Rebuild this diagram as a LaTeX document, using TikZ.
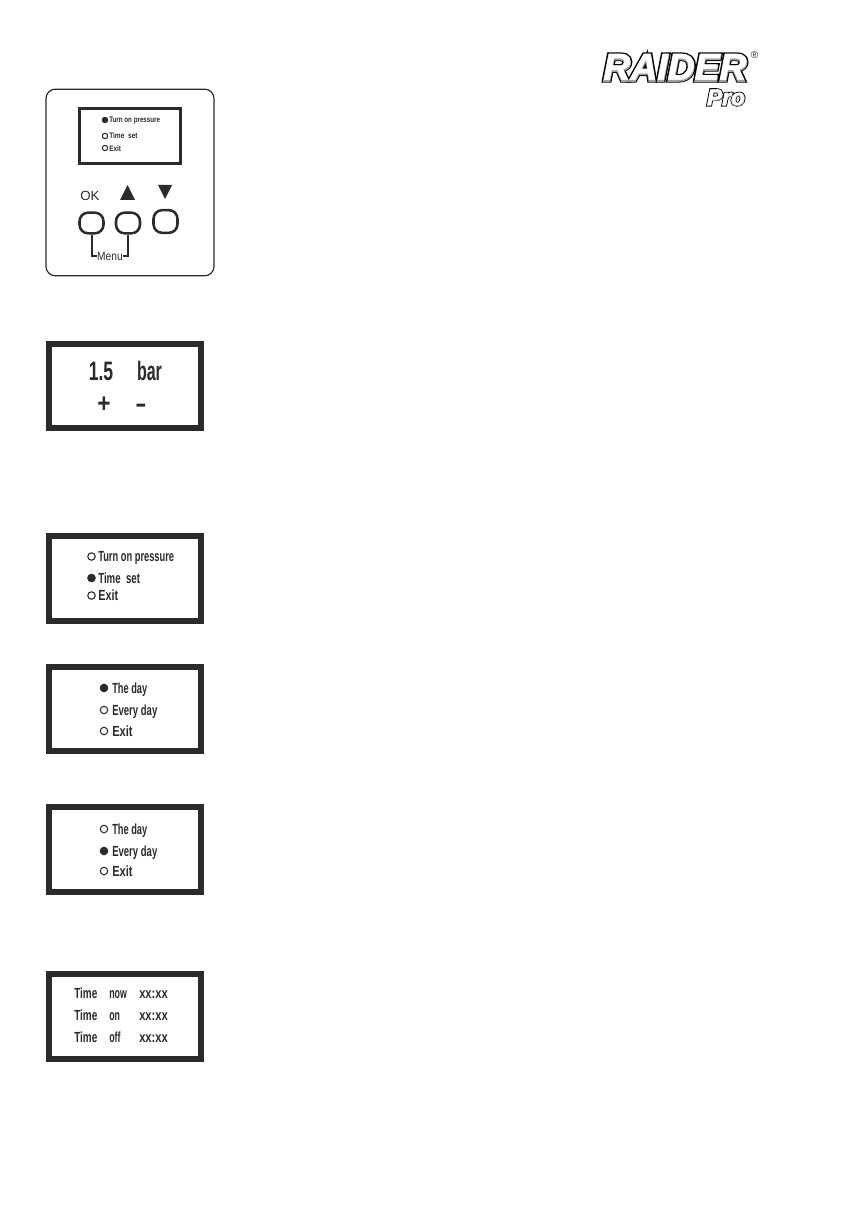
\documentclass[tikz,border=0pt]{standalone}
\usepackage{fontspec}
\setmainfont{Liberation Sans}
\newfontfamily\logofat[FakeBold=12]{Liberation Sans}
\newfontfamily\logomid[FakeBold=5]{Liberation Sans}
\newfontfamily\logothin[FakeBold=1.5]{Liberation Sans}
\newcommand{\cond}[2][0.72]{\scalebox{#1}[1]{#2}}
\definecolor{ink}{HTML}{2B2B2B}
\tikzset{
  x=0.75pt,y=-0.75pt,
  lcd/.style={draw=ink,line width=4.5pt,fill=white,minimum width=114pt,minimum height=63.5pt,inner sep=0pt},
  lcdsmall/.style={draw=ink,line width=2.2pt,fill=white,minimum width=76pt,minimum height=41.5pt,inner sep=0pt},
  btn/.style={draw=ink,line width=1.9pt,rounded corners=6.5pt,minimum width=18pt,minimum height=15.5pt,inner sep=0pt},
  tri/.style={fill=ink,draw=none},
  txtbig/.style={text=ink,font=\fontsize{20}{20}\selectfont\bfseries,inner sep=0pt},
  txtmid/.style={text=ink,font=\fontsize{11}{11}\selectfont\bfseries,inner sep=0pt,anchor=west,text height=8.5pt,text depth=1pt},
  txttiny/.style={text=ink,font=\fontsize{6}{6}\selectfont\bfseries,inner sep=0pt,anchor=west},
  radio/.style={circle,draw=ink,line width=0.8pt,minimum size=5.6pt,inner sep=0pt},
  radioon/.style={radio,fill=ink},
  radiosm/.style={circle,draw=ink,line width=0.8pt,minimum size=4pt,inner sep=0pt},
  radiosmon/.style={radiosm,fill=ink},
  wire/.style={draw=ink,line width=1.5pt},
  logotxt/.style={inner sep=0pt,font=\fontsize{28}{28}\selectfont\bfseries\itshape},
}
\begin{document}
\begin{tikzpicture}
\useasboundingbox (0,0) rectangle (845,1219);
% logo
\node[logotxt,text=black] (logoA) at (675,67.5) {\logofat\bfseries\itshape RAIDER};
\node[logotxt,text=gray!75] (logoB) at (675,68) {\logomid\bfseries\itshape RAIDER};
\node[logotxt,text=white] (logoC) at (675,66.8) {\logothin\bfseries\itshape RAIDER};
\node[inner sep=0pt,text=black,font=\fontsize{17}{17}\selectfont] (proA) at (726,97.5) {\logofat\bfseries\itshape Pro};
\node[inner sep=0pt,text=gray!75,font=\fontsize{17}{17}\selectfont] (proC) at (726,98) {\logomid\bfseries\itshape Pro};
\node[inner sep=0pt,text=white,font=\fontsize{17}{17}\selectfont] (proB) at (726,97.2) {\logothin\bfseries\itshape Pro};
\node[inner sep=0pt,text=ink,font=\fontsize{7.5}{8}\selectfont] (reg) at (754.5,55) {®};
% device panel
\node[draw=ink,line width=0.9pt,rounded corners=7pt,minimum width=126pt,minimum height=140pt,inner sep=0pt] (panel) at (130,182.5) {};
\node[lcdsmall] (screen0) at (130,136) {};
\node[radiosmon] (r01) at (105,120) {};
\node[radiosm] (r02) at (105,136) {};
\node[radiosm] (r03) at (105,148) {};
\node[txttiny] (t01) at (109,120.5) {\cond[0.78]{Turn on pressure}};
\node[txttiny] (t02) at (109,136) {\cond[0.82]{Time\ \ set}};
\node[txttiny] (t03) at (109,148.5) {\cond[0.8]{Exit}};
\node[text=ink,inner sep=0pt,font=\fontsize{10}{10}\selectfont] (oklab) at (90,196) {OK};
\path[tri] (127.5,185) -- (135,200) -- (120,200) -- cycle;
\path[tri] (158,185) -- (172,185) -- (165,199) -- cycle;
\node[btn] (bok) at (91.5,223) {};
\node[btn] (bup) at (128,223) {};
\node[btn,minimum height=17pt] (bdn) at (165.5,221.5) {};
\node[text=ink,inner sep=0pt,font=\fontsize{9}{9}\selectfont] (menu) at (110,256.5) {\cond[0.85]{Menu}};
\draw[wire] (bok.south) |- (menu.west);
\draw[wire] (bup.south) |- (menu.east);
% pressure screen
\node[lcd] (s1) at (125,386) {};
\node[txtbig] (s1a) at (101,371) {\cond[0.66]{1.5}};
\node[txtbig] (s1b) at (149.5,371) {\cond[0.6]{bar}};
\node[txtbig] (s1c) at (104,404.5) {\cond[0.85]{+}};
\node[txtbig] (s1d) at (141,405) [yshift=-3.5pt] {\cond[0.65]{−}};
% main menu
\node[lcd] (s2) at (125,578.5) {};
\node[radio] (r21) at (91.5,556.5) {};
\node[radioon] (r22) at (91.5,578) {};
\node[radio] (r23) at (91.5,595.5) {};
\node[txtmid] (t21) at (98,556.5) {\cond[0.635]{Turn on pressure}};
\node[txtmid] (t22) at (98,578) {\cond[0.66]{Time\ \ set}};
\node[txtmid] (t23) at (98,595.5) {\cond[0.74]{Exit}};
% day menu A
\node[lcd] (s3) at (125,709) {};
\node[radioon] (r31) at (104,688) {};
\node[radio] (r32) at (104,710) {};
\node[radio] (r33) at (104,731) {};
\node[txtmid] (t31) at (112,688) {\cond[0.63]{The day}};
\node[txtmid] (t32) at (112,710) {\cond[0.65]{Every day}};
\node[txtmid] (t33) at (112,731) {\cond[0.76]{Exit}};
% day menu B
\node[lcd] (s4) at (125,849.5) {};
\node[radio] (r41) at (104,829) {};
\node[radioon] (r42) at (104,851) {};
\node[radio] (r43) at (104,871) {};
\node[txtmid] (t41) at (112,829) {\cond[0.63]{The day}};
\node[txtmid] (t42) at (112,851) {\cond[0.65]{Every day}};
\node[txtmid] (t43) at (112,871) {\cond[0.76]{Exit}};
% time screen
\node[lcd] (s5) at (125,1016.5) {};
\node[txtmid] (t51) at (74,993) {\cond[0.68]{Time}};
\node[txtmid] (t52) at (74,1015) {\cond[0.68]{Time}};
\node[txtmid] (t53) at (74,1037.5) {\cond[0.68]{Time}};
\node[txtmid] (t54) at (109,993) {\cond[0.6]{now}};
\node[txtmid] (t55) at (109,1015) {\cond[0.6]{on}};
\node[txtmid] (t56) at (109,1037.5) {\cond[0.6]{off}};
\node[txtmid] (t57) at (139,993) {\cond[0.76]{xx:xx}};
\node[txtmid] (t58) at (139,1015) {\cond[0.76]{xx:xx}};
\node[txtmid] (t59) at (139,1037.5) {\cond[0.76]{xx:xx}};
\end{tikzpicture}
\end{document}
